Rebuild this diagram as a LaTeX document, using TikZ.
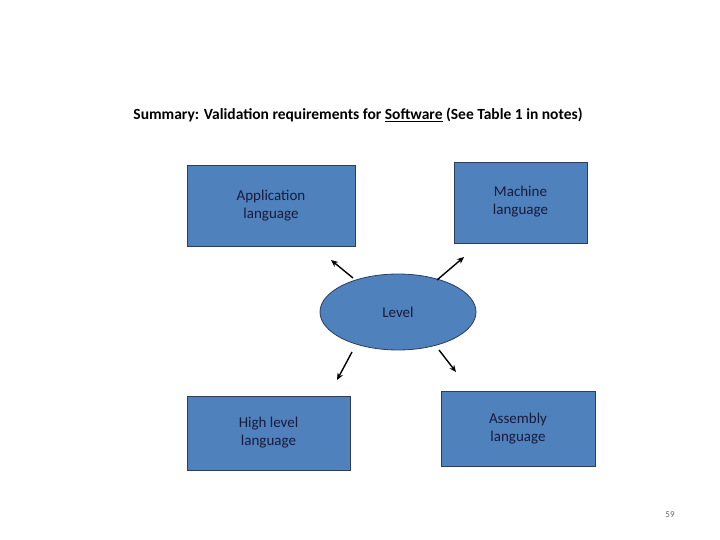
\documentclass[tikz,border=0pt]{standalone}
\usepackage{fontspec}
\setmainfont{Carlito}
\usetikzlibrary{shapes.geometric,arrows.meta}
\definecolor{boxblue}{HTML}{4F81BD}
\definecolor{boxedge}{HTML}{2C3E5C}
\definecolor{txt}{HTML}{1A1A3A}
\begin{document}
\begin{tikzpicture}[x=1pt,y=-1pt,
  bx/.style={draw=boxedge,fill=boxblue,line width=0.8pt,text=txt,font=\fontsize{15}{18}\selectfont,align=center,inner sep=0},
  arr/.style={-{Stealth[length=7pt,width=6pt]},line width=1.4pt}]
\useasboundingbox (0,0) rectangle (720,540);
\node[font=\bfseries\fontsize{15.5}{18}\selectfont] (t) at (358,115) {Summary: Validation requirements for \underline{Software} (See Table 1 in notes)};
\node[bx,minimum width=168,minimum height=81] (a) at (271,206) {Application\\language};
\node[bx,minimum width=133,minimum height=81,anchor=center] (m) at (520.5,202.5) {};
\node[text=txt,font=\fontsize{15}{18}\selectfont,align=center] (mt) at (520.5,202) {Machine\\language};
\node[bx,minimum width=163,minimum height=74] (h) at (268.5,433) {High level\\language};
\node[bx,minimum width=154,minimum height=75] (s) at (518,428.5) {};
\node[text=txt,font=\fontsize{15}{18}\selectfont,align=center] (st) at (518,429) {Assembly\\language};
\node[ellipse,draw=boxedge,fill=boxblue,line width=0.8pt,minimum width=156,minimum height=76,inner sep=0,text=txt,font=\fontsize{15}{18}\selectfont] (L) at (398,312) {Level};
\coordinate (s1) at (353,278); \coordinate (e1) at (331,260);
\coordinate (s2) at (437,280); \coordinate (e2) at (464,257);
\coordinate (s3) at (352,352); \coordinate (e3) at (337,380);
\coordinate (s4) at (439,350); \coordinate (e4) at (456,372);
\draw[arr] (s1) -- (e1);
\draw[arr] (s2) -- (e2);
\draw[arr] (s3) -- (e3);
\draw[arr] (s4) -- (e4);
\node[text=gray!80!black,font=\fontsize{9}{10}\selectfont] (p) at (670,515) {59};
\end{tikzpicture}
\end{document}
